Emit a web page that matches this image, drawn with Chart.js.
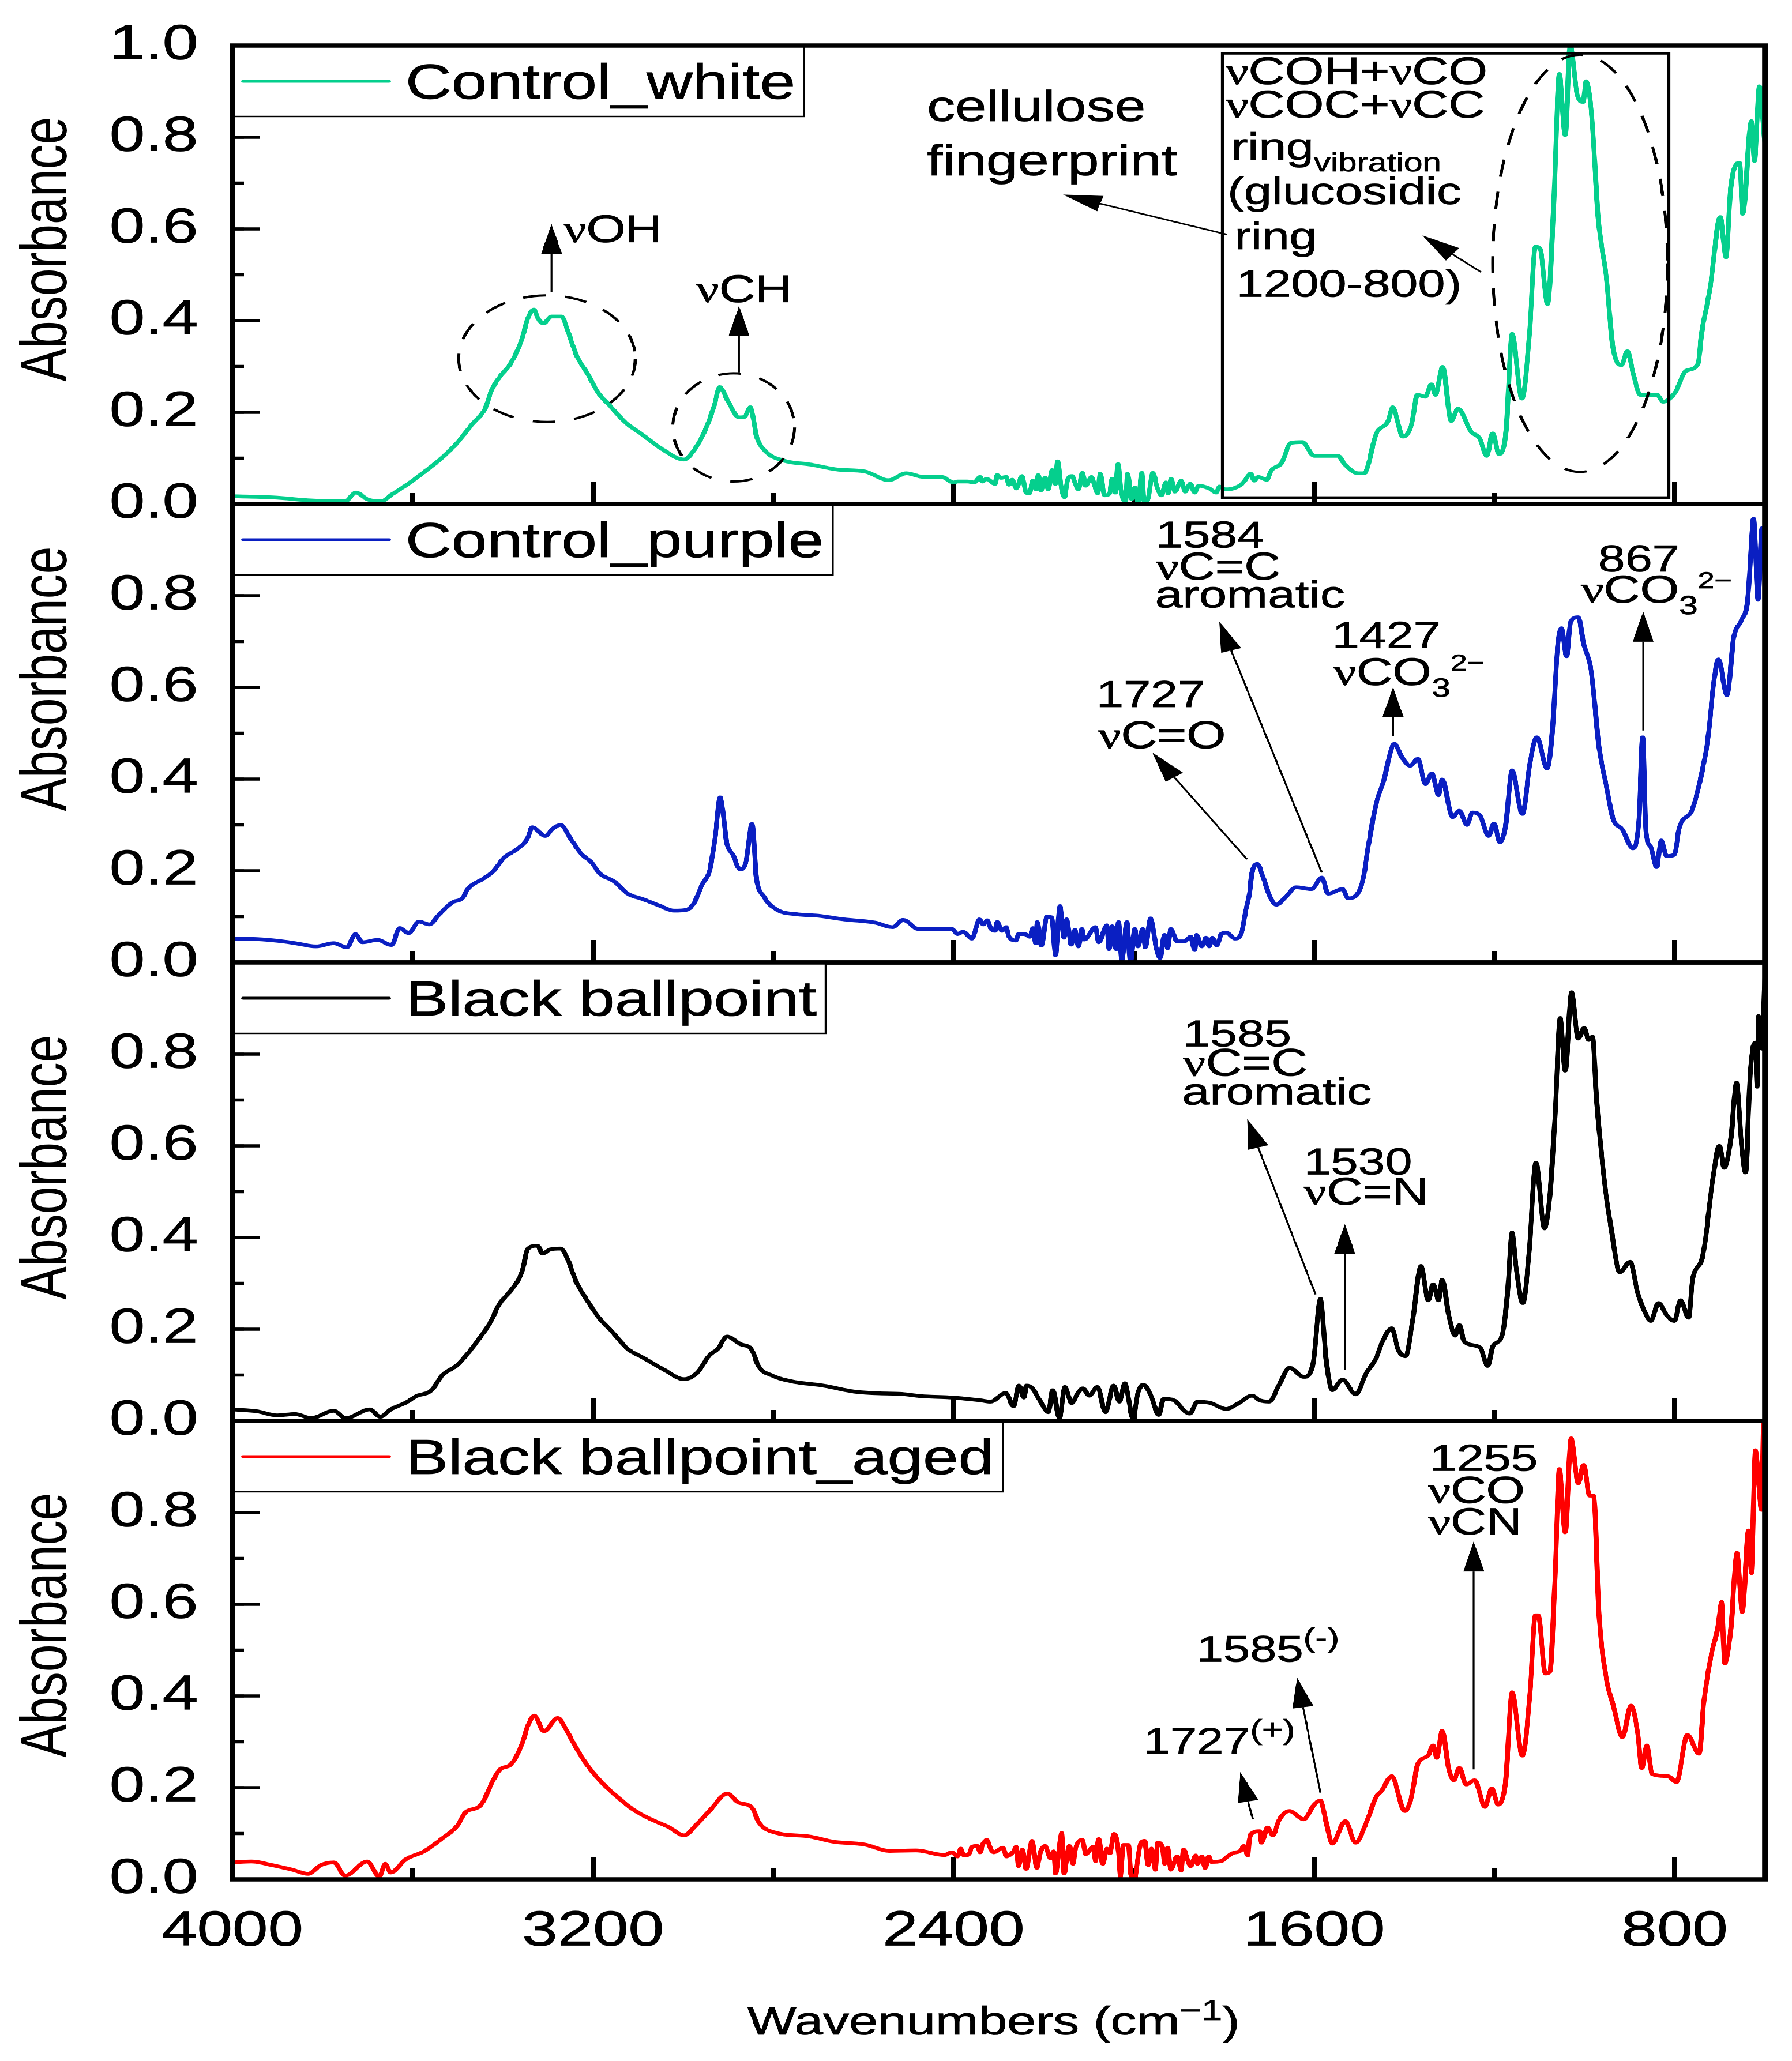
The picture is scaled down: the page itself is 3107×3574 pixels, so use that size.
<!DOCTYPE html>
<html>
<head>
<meta charset="utf-8">
<title>FTIR spectra</title>
<script src="https://cdn.jsdelivr.net/npm/chart.js@4/dist/chart.umd.js"></script>
<style>
  html, body { margin: 0; background: #fff; }
  /* the whole figure is 1.3x wider than its fonts, so draw narrow and stretch */
  #figure { position: absolute; left: 0; top: 0; width: 2390px; height: 3574px; transform: scaleX(1.3); transform-origin: 0 0; }
  #figure canvas { position: absolute; left: 0; }
</style>
</head>
<body>
<div id="figure"></div>
<script>
// values
const whiteWn = [4000,3903,3830,3750,3726,3700,3670,3646,3610,3573,3536,3500,3469,3438,3426,3408,3383,3359,3343,3331,3322,3310,3292,3270,3255,3237,3212,3188,3163,3127,3090,3047,2998,2974,2949,2931,2919,2900,2876,2864,2851,2837,2815,2778,2717,2656,2597,2544,2505,2466,2426,2400,2391,2370,2354,2341,2336,2327,2308,2303,2295,2283,2277,2270,2261,2248,2240,2232,2224,2217,2212,2206,2197,2190,2181,2174,2169,2162,2154,2146,2137,2130,2123,2114,2107,2094,2087,2080,2075,2065,2054,2048,2041,2035,2029,2018,2014,2005,1998,1991,1982,1977,1970,1958,1948,1939,1929,1924,1917,1909,1895,1886,1875,1865,1856,1833,1817,1810,1797,1779,1760,1751,1741,1733,1724,1705,1696,1672,1652,1626,1600,1547,1532,1502,1489,1462,1436,1426,1403,1384,1371,1353,1340,1331,1315,1296,1281,1252,1233,1217,1204,1190,1174,1161,1139,1122,1109,1099,1082,1069,1056,1043,1032,1016,1003,997,984,970,951,938,918,905,892,876,839,826,800,774,748,741,721,699,686,676,656,649,630,623,612,600];
const whiteAbs = [.017,.014,.008,.006,.025,.01,.006,.021,.044,.071,.1,.135,.173,.211,.246,.276,.306,.356,.409,.424,.405,.394,.409,.409,.375,.325,.284,.242,.215,.177,.151,.12,.097,.12,.166,.215,.255,.223,.189,.19,.211,.147,.113,.095,.086,.075,.071,.052,.067,.059,.059,.047,.049,.049,.047,.059,.049,.055,.044,.063,.057,.059,.042,.053,.034,.061,.027,.023,.051,.032,.063,.03,.057,.032,.074,.044,.093,.042,.015,.055,.061,.044,.032,.068,.04,.059,.04,.023,.066,.019,.023,.055,.025,.087,.032,.004,.066,.011,.036,.004,.068,.006,.008,.068,.036,.019,.047,.023,.055,.027,.051,.027,.044,.025,.04,.034,.025,.038,.032,.034,.044,.055,.066,.051,.059,.053,.072,.09,.133,.135,.105,.105,.086,.067,.067,.154,.181,.211,.147,.173,.238,.234,.261,.238,.299,.181,.208,.158,.143,.105,.154,.109,.162,.371,.23,.375,.561,.557,.436,.641,.938,.805,1,.892,.877,.922,.846,.626,.489,.348,.303,.333,.284,.238,.238,.223,.242,.291,.306,.367,.474,.626,.538,.687,.744,.633,.835,.748,.911,.786];

const purpleWn = [4000,3946,3889,3855,3815,3775,3746,3727,3712,3678,3647,3629,3609,3586,3563,3541,3512,3489,3478,3443,3421,3398,3369,3346,3335,3306,3289,3272,3249,3226,3203,3186,3152,3123,3089,3055,3020,2992,2975,2958,2941,2929,2918,2903,2889,2874,2861,2847,2838,2821,2792,2746,2701,2643,2575,2535,2512,2478,2404,2391,2379,2359,2350,2343,2334,2325,2318,2308,2303,2293,2283,2277,2261,2256,2242,2231,2224,2218,2214,2205,2193,2182,2174,2164,2155,2149,2139,2131,2123,2115,2110,2085,2078,2060,2055,2048,2039,2034,2027,2015,2008,1998,1991,1980,1975,1963,1950,1942,1932,1925,1918,1904,1888,1874,1865,1861,1849,1840,1833,1826,1816,1806,1795,1775,1760,1753,1744,1738,1726,1715,1698,1684,1663,1640,1606,1583,1569,1537,1525,1506,1491,1479,1462,1447,1422,1405,1387,1370,1353,1339,1324,1316,1293,1278,1261,1249,1232,1213,1201,1188,1175,1161,1138,1121,1106,1083,1071,1060,1051,1040,1031,1014,1002,985,968,951,937,916,893,879,871,864,853,840,830,818,801,790,761,744,726,713,703,684,669,652,638,625,615,606,600];
const purpleAbs = [.052,.051,.046,.041,.035,.042,.033,.062,.044,.049,.038,.075,.064,.089,.083,.105,.131,.141,.16,.183,.199,.228,.247,.269,.295,.276,.292,.3,.269,.237,.218,.195,.176,.15,.138,.125,.113,.115,.131,.17,.202,.273,.36,.26,.234,.203,.218,.302,.189,.144,.115,.105,.102,.094,.087,.077,.093,.073,.073,.062,.067,.052,.075,.094,.083,.092,.075,.069,.088,.069,.077,.056,.048,.062,.062,.056,.075,.042,.088,.037,.1,.098,.016,.123,.054,.094,.039,.071,.035,.073,.05,.077,.044,.081,.029,.079,.029,.088,.004,.088,0,.073,.035,.073,.033,.096,.031,.01,.06,.031,.073,.046,.046,.056,.027,.06,.035,.054,.035,.054,.037,.062,.065,.052,.069,.107,.148,.195,.215,.191,.143,.126,.143,.164,.16,.185,.15,.16,.14,.147,.184,.259,.348,.392,.477,.447,.429,.444,.389,.412,.365,.399,.317,.331,.3,.327,.32,.276,.303,.262,.3,.419,.324,.436,.491,.423,.511,.688,.729,.668,.743,.753,.695,.634,.47,.382,.314,.29,.249,.314,.491,.286,.252,.208,.266,.232,.235,.293,.334,.395,.491,.613,.661,.583,.709,.746,.791,.968,.791,.947,.893];

const blackWn = [4000,3946,3901,3861,3826,3775,3749,3695,3672,3649,3615,3592,3558,3535,3501,3483,3455,3426,3409,3381,3358,3344,3323,3312,3295,3272,3255,3238,3215,3186,3158,3123,3089,3043,2998,2969,2941,2923,2903,2872,2849,2832,2803,2758,2689,2621,2563,2518,2472,2403,2341,2318,2284,2267,2255,2244,2238,2225,2207,2190,2180,2165,2153,2138,2124,2113,2099,2081,2063,2045,2032,2020,2002,1991,1979,1962,1945,1934,1911,1888,1876,1859,1830,1795,1767,1738,1721,1700,1677,1655,1623,1603,1586,1574,1560,1537,1508,1485,1462,1451,1428,1413,1397,1382,1363,1347,1336,1324,1316,1301,1287,1278,1267,1232,1215,1203,1183,1171,1161,1152,1137,1123,1108,1089,1077,1066,1054,1043,1029,1014,1001,991,982,974,956,941,922,899,882,868,853,836,818,801,787,769,761,738,715,701,690,675,663,652,643,632,621,617,614,606,600];
const blackAbs = [.025,.021,.012,.015,.006,.022,.006,.025,.009,.025,.04,.054,.067,.099,.122,.141,.176,.218,.253,.286,.324,.376,.382,.365,.374,.376,.35,.305,.266,.224,.195,.157,.138,.112,.091,.105,.144,.157,.184,.167,.157,.118,.099,.086,.077,.064,.06,.059,.054,.051,.045,.042,.061,.032,.077,.051,.077,.071,.042,.019,.067,.006,.074,.039,.061,.071,.055,.074,.019,.077,.042,.082,.006,.061,.079,.055,.013,.048,.045,.022,.016,.042,.039,.026,.039,.055,.045,.042,.08,.116,.096,.122,.266,.138,.067,.09,.058,.103,.138,.167,.202,.154,.141,.215,.338,.263,.298,.263,.308,.228,.186,.209,.173,.16,.12,.164,.186,.279,.411,.337,.257,.369,.563,.42,.491,.658,.879,.764,.935,.834,.857,.831,.838,.709,.523,.42,.324,.347,.279,.241,.218,.257,.231,.218,.263,.225,.305,.359,.53,.6,.552,.619,.738,.607,.542,.767,.825,.729,.883,.812,.972];

const redWn = [4000,3958,3912,3867,3832,3804,3775,3750,3701,3674,3661,3649,3615,3575,3535,3501,3483,3449,3421,3407,3381,3358,3343,3330,3309,3278,3261,3238,3215,3186,3152,3112,3078,3032,2998,2969,2941,2902,2878,2847,2832,2792,2723,2666,2598,2541,2483,2420,2404,2391,2384,2377,2366,2359,2347,2341,2336,2326,2318,2311,2290,2283,2267,2261,2256,2247,2239,2226,2215,2208,2197,2185,2178,2174,2160,2155,2143,2135,2130,2114,2107,2090,2085,2078,2069,2060,2053,2044,2034,2030,2023,2012,2007,1998,1991,1986,1976,1968,1961,1952,1947,1936,1932,1925,1918,1904,1895,1890,1874,1863,1859,1849,1842,1834,1828,1806,1792,1781,1763,1756,1747,1744,1737,1721,1717,1703,1692,1677,1655,1623,1600,1586,1574,1560,1531,1508,1485,1462,1451,1428,1399,1385,1370,1347,1336,1328,1316,1301,1290,1278,1263,1244,1221,1206,1192,1175,1161,1138,1121,1109,1103,1087,1077,1066,1056,1043,1030,1014,1002,989,980,968,951,937,916,897,882,873,862,850,815,796,772,746,735,719,704,696,689,675,662,650,636,630,621,607,603];
const redAbs = [.037,.039,.031,.021,.012,.031,.037,.008,.039,.006,.034,.015,.044,.061,.089,.117,.146,.162,.217,.239,.252,.294,.339,.357,.323,.352,.329,.288,.252,.217,.185,.153,.134,.114,.096,.121,.15,.187,.168,.156,.124,.101,.094,.082,.076,.062,.063,.053,.059,.05,.067,.052,.055,.071,.073,.059,.075,.086,.067,.059,.069,.05,.061,.071,.029,.065,.023,.084,.025,.057,.073,.046,.061,.013,.101,.013,.073,.034,.065,.086,.055,.071,.04,.088,.034,.067,.057,.099,.059,.006,.075,.075,.013,.002,.046,.075,.084,.031,.067,.021,.08,.067,.034,.069,.021,.05,.019,.065,.029,.052,.034,.05,.025,.05,.038,.04,.05,.057,.063,.073,.052,.086,.101,.105,.08,.113,.096,.131,.149,.131,.163,.172,.127,.078,.127,.08,.122,.181,.192,.225,.149,.176,.252,.27,.292,.265,.324,.239,.216,.243,.207,.216,.158,.198,.163,.216,.408,.27,.408,.576,.576,.449,.453,.65,.895,.757,.962,.864,.904,.837,.837,.578,.435,.382,.31,.379,.319,.243,.292,.23,.225,.212,.315,.274,.39,.489,.551,.605,.471,.551,.712,.583,.761,.668,.936,.806,1];

const xMajorTicks = [4000, 3200, 2400, 1600, 800];
const xMinorTicks = [4000, 3600, 3200, 2800, 2400, 2000, 1600, 1200, 800];
const yMajorStep = 0.2, yMinorStep = 0.1;
const yTickLabels = ["0.0", "0.2", "0.4", "0.6", "0.8"];
const yTickLabelsTop = ["0.0", "0.2", "0.4", "0.6", "0.8", "1.0"];

// annotations, placed in wavenumber / absorbance so they go through the scales
const whiteNotes = [
  { text: "νOH", wn: 3265, abs: 0.571, size: 67 },
  { text: "νCH", wn: 2971, abs: 0.44, size: 67 },
  { text: "cellulose", wn: 2459, abs: 0.835, size: 75 },
  { text: "fingerprint", wn: 2459, abs: 0.717, size: 75 },
  { text: "νCOH+νCO", wn: 1796, abs: 0.916, size: 67 },
  { text: "νCOC+νCC", wn: 1796, abs: 0.843, size: 67 },
  { text: "ring_{vibration}", wn: 1784, abs: 0.751, size: 66 },
  { text: "(glucosidic", wn: 1792, abs: 0.654, size: 66 },
  { text: "ring", wn: 1777, abs: 0.556, size: 66 },
  { text: "1200-800)", wn: 1773, abs: 0.452, size: 66 },
];
const whiteArrows = [
  [3292, 0.462, 3292, 0.611], [2876, 0.287, 2876, 0.432],
  [1794, 0.588, 2157, 0.675], [1230, 0.506, 1360, 0.586],
];
const whiteEllipses = [[3302, 0.317, 196, 0.138], [2888, 0.167, 135, 0.118], [1010, 0.525, 194, 0.455]];
const whiteRect = [1803, 0.983, 813, 0.014];

const purpleNotes = [
  { text: "1584", wn: 1951, abs: 0.905, size: 65 },
  { text: "νC=C", wn: 1951, abs: 0.835, size: 67 },
  { text: "aromatic", wn: 1953, abs: 0.774, size: 66 },
  { text: "1427", wn: 1560, abs: 0.686, size: 65 },
  { text: "νCO_{3}^{2−}", wn: 1557, abs: 0.605, size: 67, supSize: 40 },
  { text: "1727", wn: 2083, abs: 0.557, size: 65 },
  { text: "νC=O", wn: 2079, abs: 0.467, size: 67 },
  { text: "867", wn: 970, abs: 0.853, size: 65 },
  { text: "νCO_{3}^{2−}", wn: 1008, abs: 0.785, size: 67, supSize: 40 },
];
const purpleArrows = [
  [1749, 0.225, 1959, 0.458], [1583, 0.196, 1810, 0.743],
  [1425, 0.494, 1425, 0.601], [870, 0.506, 870, 0.765],
];

const blackNotes = [
  { text: "1585", wn: 1891, abs: 0.817, size: 65 },
  { text: "νC=C", wn: 1891, abs: 0.753, size: 67 },
  { text: "aromatic", wn: 1893, abs: 0.69, size: 66 },
  { text: "1530", wn: 1623, abs: 0.538, size: 65 },
  { text: "νC=N", wn: 1623, abs: 0.472, size: 67 },
];
const blackArrows = [[1597, 0.276, 1749, 0.659], [1532, 0.112, 1532, 0.43]];

const redNotes = [
  { text: "1255", wn: 1344, abs: 0.891, size: 65 },
  { text: "νCO", wn: 1347, abs: 0.821, size: 66 },
  { text: "νCN", wn: 1347, abs: 0.752, size: 66 },
  { text: "1585^{(-)}", wn: 1861, abs: 0.475, size: 64, supSize: 48 },
  { text: "1727^{(+)}", wn: 1979, abs: 0.274, size: 64, supSize: 48 },
];
const redArrows = [[1246, 0.24, 1246, 0.737], [1586, 0.189, 1638, 0.44], [1736, 0.131, 1764, 0.234]];

const stretch = 1.3;
const plotLeft = 403 / stretch, plotRight = 3060 / stretch, figureWidth = 3107 / stretch;
const panelHeight = 795, padTop = 60;
const sans = '"Liberation Sans", Arial, sans-serif';
const serif = '"Liberation Serif", "Times New Roman", serif';

const panels = [
  { label: "Control_white", color: "#05cf8d", wn: whiteWn, abs: whiteAbs, top: 79, notes: whiteNotes, arrows: whiteArrows, ellipses: whiteEllipses, rect: whiteRect, yLabels: yTickLabelsTop, titleY: 353 },
  { label: "Control_purple", color: "#0a1fc2", wn: purpleWn, abs: purpleAbs, top: 874, notes: purpleNotes, arrows: purpleArrows, yLabels: yTickLabels, titleY: 303 },
  { label: "Black ballpoint", color: "#000000", wn: blackWn, abs: blackAbs, top: 1669, notes: blackNotes, arrows: blackArrows, yLabels: yTickLabels, titleY: 355 },
  { label: "Black ballpoint_aged", color: "#ff0000", wn: redWn, abs: redAbs, top: 2464, notes: redNotes, arrows: redArrows, yLabels: yTickLabels, titleY: 354, last: true },
];

// text with serif nu, _{sub} and ^{sup} parts
function drawRich(ctx, text, x, y, size, supSize) {
  const parts = text.match(/[_^]\{.*?\}|ν|[^_^ν]+/g);
  ctx.textAlign = "left";
  ctx.textBaseline = "alphabetic";
  ctx.fillStyle = "#000";
  ctx.strokeStyle = "#000";
  ctx.lineWidth = 0.8;
  parts.forEach((part) => {
    let t = part, s = size, dy = 0, font = sans;
    if (part[0] === "_") { t = part.slice(2, -1); s = 45; dy = 20; }
    if (part[0] === "^") { t = part.slice(2, -1); s = supSize || 34; dy = -25; }
    if (part === "ν") font = serif;
    ctx.font = s + "px " + font;
    ctx.fillText(t, x, y + dy);
    ctx.strokeText(t, x, y + dy);
    x += ctx.measureText(t).width;
  });
  return x;
}

function drawArrow(ctx, x1, y1, x2, y2) {
  const a = Math.atan2(y2 - y1, x2 - x1);
  const len = 52, half = 14;
  const bx = x2 - Math.cos(a) * len, by = y2 - Math.sin(a) * len;
  ctx.strokeStyle = "#000";
  ctx.lineWidth = 2.6;
  ctx.setLineDash([]);
  ctx.beginPath();
  ctx.moveTo(x1, y1);
  ctx.lineTo(bx, by);
  ctx.stroke();
  ctx.fillStyle = "#000";
  ctx.beginPath();
  ctx.moveTo(x2, y2);
  ctx.lineTo(bx - Math.sin(a) * half, by + Math.cos(a) * half);
  ctx.lineTo(bx + Math.sin(a) * half, by - Math.cos(a) * half);
  ctx.closePath();
  ctx.fill();
}

const panelDecor = {
  id: "panelDecor",
  afterDatasetsDraw(chart, args, panel) {
    const { ctx, chartArea: area, scales } = chart;
    const px = (v) => scales.x.getPixelForValue(v);
    const py = (v) => scales.y.getPixelForValue(v);
    ctx.save();

    // dashed rings and the fingerprint box
    (panel.ellipses || []).forEach(([cx, cy, rx, ry]) => {
      ctx.strokeStyle = "#000";
      ctx.lineWidth = 4;
      ctx.setLineDash([30, 26]);
      ctx.beginPath();
      ctx.ellipse(px(cx), py(cy), Math.abs(px(cx + rx) - px(cx)), Math.abs(py(cy + ry) - py(cy)), 0, 0, Math.PI * 2);
      ctx.stroke();
    });
    ctx.setLineDash([]);
    if (panel.rect) {
      const [x1, y1, x2, y2] = panel.rect;
      ctx.strokeStyle = "#000";
      ctx.lineWidth = 4.5;
      ctx.strokeRect(px(x1), py(y1), px(x2) - px(x1), py(y2) - py(y1));
    }

    panel.arrows.forEach(([x1, y1, x2, y2]) => drawArrow(ctx, px(x1), py(y1), px(x2), py(y2)));
    panel.notes.forEach((n) => drawRich(ctx, n.text, px(n.wn), py(n.abs), n.size, n.supSize));

    // legend box
    const label = chart.data.datasets[0].label;
    ctx.font = "85px " + sans;
    const textLeft = area.left + 231;
    const boxRight = textLeft + ctx.measureText(label).width + 12;
    ctx.fillStyle = "#fff";
    ctx.fillRect(area.left, area.top, boxRight - area.left, 123);
    ctx.strokeStyle = "#000";
    ctx.lineWidth = 2.4;
    ctx.strokeRect(area.left, area.top, boxRight - area.left, 123);
    ctx.strokeStyle = panel.color;
    ctx.lineWidth = 5;
    ctx.lineCap = "round";
    ctx.beginPath();
    ctx.moveTo(area.left + 14, area.top + 62);
    ctx.lineTo(area.left + 209, area.top + 62);
    ctx.stroke();
    ctx.lineCap = "butt";
    ctx.fillStyle = "#000";
    ctx.textAlign = "left";
    ctx.textBaseline = "alphabetic";
    ctx.fillText(label, textLeft, area.top + 92);
    ctx.strokeStyle = "#000";
    ctx.lineWidth = 0.8;
    ctx.strokeText(label, textLeft, area.top + 92);

    // frame
    ctx.strokeStyle = "#000";
    ctx.lineWidth = 7.5;
    ctx.strokeRect(area.left, area.top, area.right - area.left, area.bottom - area.top);

    // axis titles
    ctx.save();
    ctx.translate(88, area.top + panel.titleY);
    ctx.rotate(-Math.PI / 2);
    ctx.font = "86px " + sans;
    ctx.textAlign = "center";
    ctx.fillStyle = "#000";
    ctx.fillText("Absorbance", 0, 0);
    ctx.restore();
    if (panel.last) {
      drawRich(ctx, "Wavenumbers (cm^{−1})", 1296 / stretch, area.bottom + 269, 69, 50);
    }
    ctx.restore();
  },
};

// the big tick padding would otherwise be added around the plot area
function fixBox(s, w, h) {
  if (w !== null) s.width = w;
  if (h !== null) s.height = h;
  s.paddingTop = s.paddingBottom = s.paddingLeft = s.paddingRight = 0;
}

panels.forEach((panel) => {
  const canvas = document.createElement("canvas");
  const canvasHeight = panel.last ? 3574 - (panel.top - padTop) : panelHeight + padTop * 2;
  canvas.style.top = panel.top - padTop + "px";
  canvas.style.width = figureWidth + "px";
  canvas.style.height = canvasHeight + "px";
  document.getElementById("figure").appendChild(canvas);

  new Chart(canvas.getContext("2d"), {
    type: "line",
    data: {
      datasets: [{
        label: panel.label,
        data: panel.wn.map((x, i) => ({ x, y: panel.abs[i] })),
        borderColor: panel.color,
        borderWidth: 6.5,
        borderJoinStyle: "round",
        pointRadius: 0,
        cubicInterpolationMode: "monotone",
      }],
    },
    plugins: [panelDecor],
    options: {
      responsive: false,
      maintainAspectRatio: false,
      animation: false,
      devicePixelRatio: 2,
      layout: { autoPadding: false, padding: { top: padTop, right: figureWidth - plotRight, left: 0, bottom: 0 } },
      plugins: { legend: { display: false }, tooltip: { enabled: false }, panelDecor: panel },
      scales: {
        x: {
          type: "linear", reverse: true, min: 600, max: 4000, weight: 1,
          afterFit: (s) => fixBox(s, null, canvasHeight - padTop - panelHeight),
          afterBuildTicks: (s) => { s.ticks = xMajorTicks.map((value) => ({ value })); },
          border: { display: false },
          grid: { drawOnChartArea: false, tickLength: -39, tickWidth: 7, tickColor: "#000" },
          ticks: {
            display: !!panel.last, autoSkip: false,
            maxRotation: 0, minRotation: 0, padding: 79, color: "#000",
            textStrokeColor: "#000", textStrokeWidth: 0.8,
            font: { family: sans, size: 85 },
            callback: (v) => String(v),
          },
        },
        xMinor: {
          type: "linear", position: "bottom", reverse: true, min: 600, max: 4000, weight: -1,
          afterFit: (s) => fixBox(s, null, 0),
          afterBuildTicks: (s) => { s.ticks = xMinorTicks.map((value) => ({ value })); },
          border: { display: false },
          grid: { drawOnChartArea: false, tickLength: -19, tickWidth: 7, tickColor: "#000" },
          ticks: { display: false, autoSkip: false },
        },
        y: {
          min: 0, max: 1, weight: 1,
          afterFit: (s) => fixBox(s, plotLeft, null),
          border: { display: false },
          grid: { drawOnChartArea: false, tickLength: -37, tickWidth: 5.5, tickColor: "#000" },
          ticks: {
            stepSize: yMajorStep, padding: 83, color: "#000", autoSkip: false,
            textStrokeColor: "#000", textStrokeWidth: 0.8,
            font: { family: sans, size: 85 },
            callback: (v) => panel.yLabels[Math.round(v / yMajorStep)] || "",
          },
        },
        yMinor: {
          position: "left", min: 0, max: 1, weight: -1,
          afterFit: (s) => fixBox(s, 0, null),
          border: { display: false },
          grid: { drawOnChartArea: false, tickLength: -15, tickWidth: 5.5, tickColor: "#000" },
          ticks: { display: false, stepSize: yMinorStep, autoSkip: false },
        },
      },
    },
  });
});
</script>
</body>
</html>
